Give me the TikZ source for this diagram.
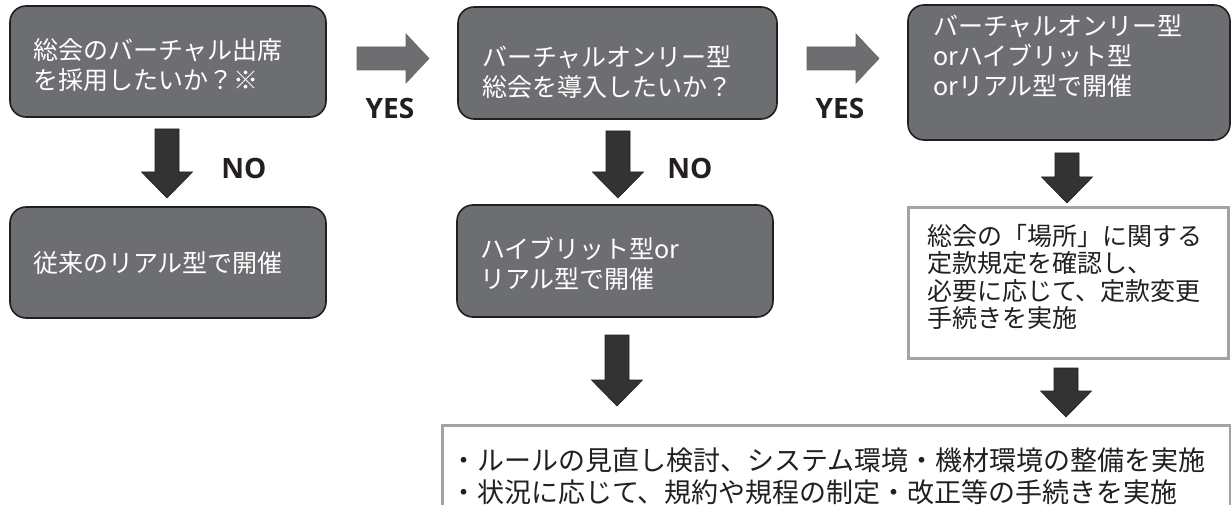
\documentclass[tikz,border=0pt]{standalone}
\usepackage{fontspec}
\newfontfamily\jp{Noto Sans CJK JP}
\newfontfamily\lat{Open Sans}
\definecolor{boxgray}{HTML}{6D6E71}
\definecolor{boxedge}{HTML}{231F20}
\definecolor{darkarr}{HTML}{333333}
\definecolor{midarr}{HTML}{6E6E70}
\definecolor{lineg}{HTML}{A3A3A3}
\definecolor{ink}{HTML}{231F20}
\newcommand{\dnarrow}[4]{%
  \fill[darkarr, draw=ink, line width=0.6pt] ({#1-12},{#2}) -- ({#1+12},{#2}) -- ({#1+12},{#3-26}) -- ({#1+25.5},{#3-26}) -- ({#1},{#3}) -- ({#1-25.5},{#3-26}) -- ({#1-12},{#3-26}) -- cycle;
  \coordinate (#4) at ({#1},{#3});}
\newcommand{\rtarrow}[3]{%
  \fill[midarr, draw=black!60, line width=0.6pt] ({#1},{#2-11.5}) -- ({#1+49},{#2-11.5}) -- ({#1+49},{#2-24.5}) -- ({#1+72},{#2}) -- ({#1+49},{#2+24.5}) -- ({#1+49},{#2+11.5}) -- ({#1},{#2+11.5}) -- cycle;
  \coordinate (#3) at ({#1+72},{#2});}
\begin{document}
\begin{tikzpicture}[x=1pt,y=-1pt,
  gbox/.style={draw=boxedge, line width=1.6pt, fill=boxgray, rounded corners=16pt, inner sep=0pt},
  wbox/.style={draw=lineg, line width=3pt, fill=white, inner sep=0pt},
  gtext/.style={text=white, font=\jp\fontsize{25}{30}\selectfont, align=left, inner sep=0pt, anchor=west},
  wtext/.style={text=ink, font=\jp\fontsize{25}{27.5}\selectfont, align=left, inner sep=0pt, anchor=west},
  btext/.style={text=ink, font=\jp\fontsize{27}{32}\selectfont, align=left, inner sep=0pt, anchor=west},
  yn/.style={text=ink, font=\lat\bfseries\fontsize{28}{30}\selectfont, inner sep=0pt}]
\clip (0,0) rectangle (1231,505);
\fill[white] (0,0) rectangle (1231,505);
% boxes
\node[gbox, minimum width=316pt, minimum height=111pt] (b1) at (168,61.5) {};
\node[gtext] (t1) at (33,65) {総会のバーチャル出席\\を採用したいか？※};
\node[gbox, minimum width=319pt, minimum height=112pt] (b2) at (617.5,63) {};
\node[gtext] (t2) at (482,72.5) {バーチャルオンリー型\\総会を導入したいか？};
\node[gbox, minimum width=322pt, minimum height=135pt] (b3) at (1069,72.5) {};
\node[gtext] (t3) at (933,56) {バーチャルオンリー型\\orハイブリット型\\orリアル型で開催};
\node[gbox, minimum width=316pt, minimum height=111pt] (b4) at (168,262.5) {};
\node[gtext] (t4) at (33,263) {従来のリアル型で開催};
\node[gbox, minimum width=316pt, minimum height=112pt] (b5) at (615,261) {};
\node[gtext] (t5) at (480,263.5) {ハイブリット型or\\リアル型で開催};
\node[wbox, minimum width=320pt, minimum height=150pt] (b6) at (1068,283) {};
\node[wtext] (t6) at (927,277) {総会の「場所」に関する\\定款規定を確認し、\\必要に応じて、定款変更\\手続きを実施};
\node[wbox, minimum width=788pt, minimum height=110pt] (b7) at (836,480) {};
\node[btext] (t7) at (450,476) {・ルールの見直し検討、システム環境・機材環境の整備を実施\\・状況に応じて、規約や規程の制定・改正等の手続きを実施};
% arrows
\rtarrow{357}{58.5}{r1}
\rtarrow{807}{58.5}{r2}
\dnarrow{167}{129}{198}{d1}
\dnarrow{618}{131}{198}{d2}
\dnarrow{617}{335}{406}{d3}
\dnarrow{1067}{153}{203}{d4}
\dnarrow{1066}{368}{417}{d5}
% labels
\node[yn] (y1) at (390,109) {YES};
\node[yn] (y2) at (840,109) {YES};
\node[yn] (n1) at (244,168) {NO};
\node[yn] (n2) at (690,168) {NO};
\end{tikzpicture}
\end{document}
